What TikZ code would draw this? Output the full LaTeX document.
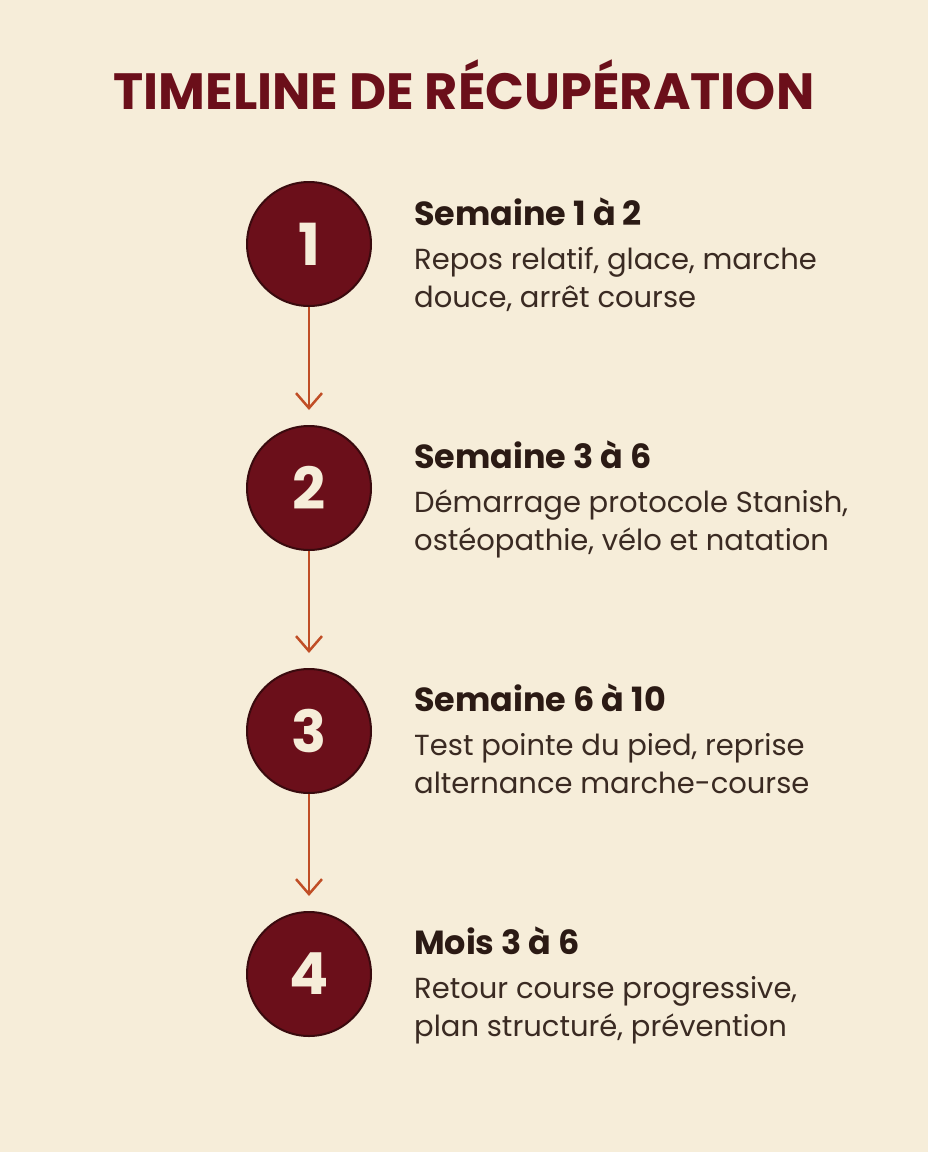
\documentclass[tikz,border=0pt]{standalone}
\usepackage{fontspec}
\setmainfont{Poppins}
\usetikzlibrary{arrows.meta}

\definecolor{cream}{HTML}{F6EDD9}
\definecolor{wine}{HTML}{6B0F1A}
\definecolor{wineedge}{HTML}{3A0A0E}
\definecolor{rust}{HTML}{C04E26}
\definecolor{ink}{HTML}{2B1A14}
\definecolor{inkbody}{HTML}{3A2A22}

\begin{document}
\begin{tikzpicture}[x=1pt,y=-1pt,
  stepdot/.style={circle,fill=wine,draw=wineedge,line width=2pt,minimum size=124pt,inner sep=0pt,
    text=cream,font=\fontsize{58}{58}\selectfont\bfseries},
  stephead/.style={anchor=base west,inner sep=0pt,text=ink,font=\fontsize{33.4}{33}\selectfont\bfseries},
  stepbody/.style={anchor=base west,inner sep=0pt,text=inkbody,font=\fontsize{29}{29}\selectfont},
  flow/.style={rust,line width=2.5pt,-{Straight Barb[length=15pt,width=26pt,line width=2.5pt]}}]

\fill[cream] (0,0) rectangle (928,1152);
\useasboundingbox (0,0) rectangle (928,1152);

\node[anchor=base,text=wine,font=\fontsize{51}{51}\selectfont\bfseries] (title) at (464,109) {TIMELINE DE RÉCUPÉRATION};

% steps
\node[stepdot] (n1) at (309,244) {1};
\node[stepdot] (n2) at (309,488) {2};
\node[stepdot] (n3) at (309,731) {3};
\node[stepdot] (n4) at (309,974) {4};

\node[stephead] (h1) at (414,225) {Semaine 1 à 2};
\node[stepbody] (b1a) at (414,269) {Repos relatif, glace, marche};
\node[stepbody] (b1b) at (414,307) {douce, arrêt course};

\node[stephead] (h2) at (414,468) {Semaine 3 à 6};
\node[stepbody] (b2a) at (414,512) {Démarrage protocole Stanish,};
\node[stepbody] (b2b) at (414,550) {ostéopathie, vélo et natation};

\node[stephead] (h3) at (414,711) {Semaine 6 à 10};
\node[stepbody] (b3a) at (414,755) {Test pointe du pied, reprise};
\node[stepbody] (b3b) at (414,793) {alternance marche-course};

\node[stephead] (h4) at (414,954) {Mois 3 à 6};
\node[stepbody] (b4a) at (414,998) {Retour course progressive,};
\node[stepbody] (b4b) at (414,1036) {plan structuré, prévention};

% arrows
\draw[flow] (n1.south) -- ([yshift=15pt]n2.north);
\draw[flow] (n2.south) -- ([yshift=15pt]n3.north);
\draw[flow] (n3.south) -- ([yshift=15pt]n4.north);

\end{tikzpicture}
\end{document}
